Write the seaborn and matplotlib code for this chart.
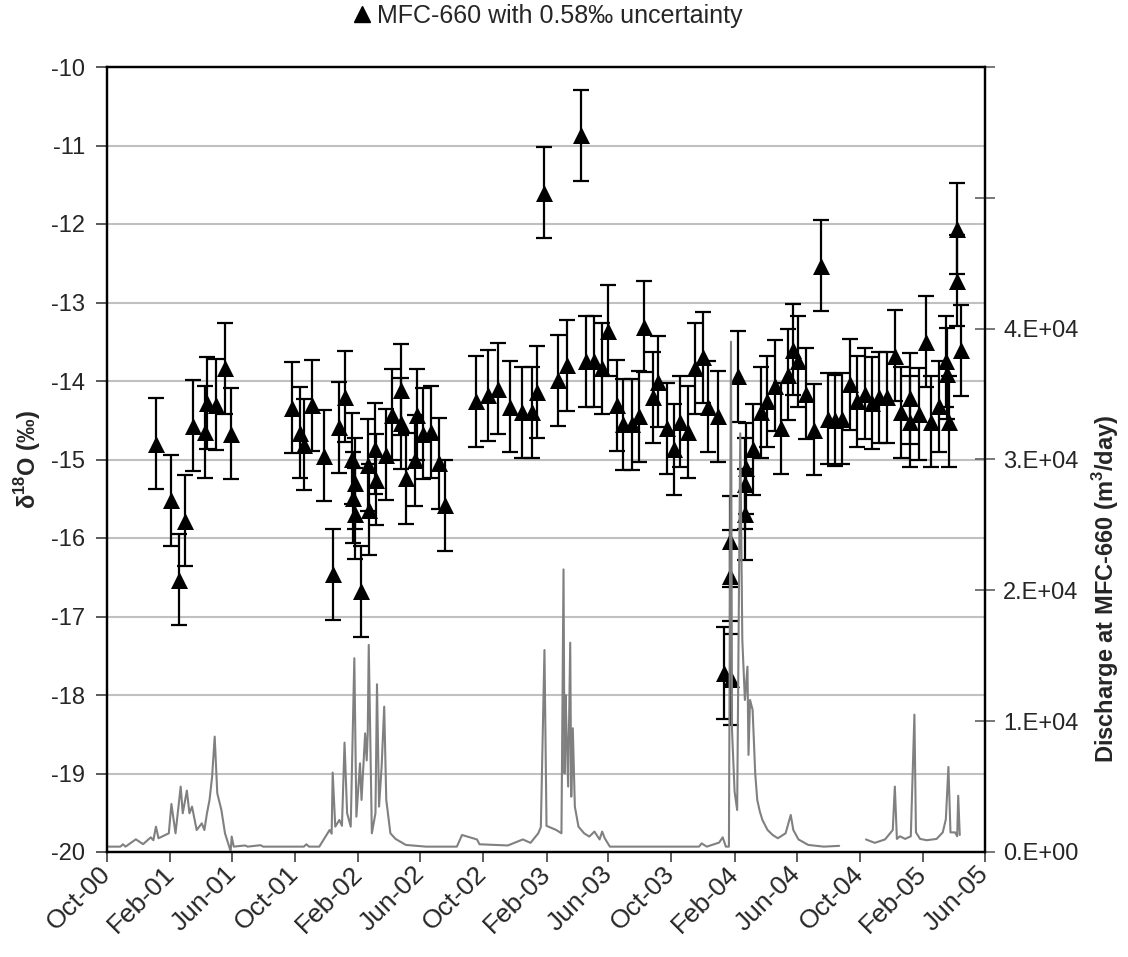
import numpy as np
import pandas as pd
import matplotlib
matplotlib.use("Agg")
import matplotlib.pyplot as plt
import matplotlib.dates as mdates
from matplotlib.ticker import FixedLocator, FuncFormatter
from matplotlib.lines import Line2D
import seaborn as sns

# d18O samples at MFC-660
sample_dates = [
    "2001-01-05", "2001-02-02", "2001-02-18", "2001-03-01", "2001-03-17", "2001-04-09",
    "2001-04-14", "2001-04-30", "2001-05-18", "2001-05-29",
    "2001-09-25", "2001-10-11", "2001-10-19", "2001-11-03", "2001-11-26", "2001-12-13",
    "2001-12-25", "2002-01-05", "2002-01-20", "2002-01-22", "2002-01-25", "2002-01-26",
    "2002-02-06", "2002-02-20", "2002-02-22", "2002-03-05", "2002-03-08", "2002-03-27",
    "2002-04-08", "2002-04-24", "2002-04-25", "2002-05-04", "2002-05-21", "2002-05-25",
    "2002-06-06", "2002-06-21", "2002-07-07", "2002-07-19",
    "2002-09-18", "2002-10-11", "2002-10-30", "2002-11-22", "2002-12-15", "2003-01-04",
    "2003-01-13", "2003-01-28", "2003-02-24", "2003-03-12", "2003-04-09", "2003-04-18",
    "2003-05-04", "2003-05-19", "2003-06-01", "2003-06-17", "2003-06-29", "2003-07-16",
    "2003-07-31", "2003-08-09", "2003-08-26", "2003-09-06", "2003-09-22", "2003-10-06",
    "2003-10-18", "2003-11-03", "2003-11-16", "2003-12-01", "2003-12-12", "2003-12-31",
    "2004-01-12", "2004-01-23", "2004-01-24", "2004-01-25", "2004-02-08", "2004-02-21",
    "2004-02-22", "2004-02-23", "2004-03-08", "2004-03-24", "2004-04-03", "2004-04-19",
    "2004-05-01", "2004-05-15", "2004-05-25", "2004-06-03", "2004-06-18", "2004-07-04",
    "2004-07-17", "2004-08-01", "2004-08-14", "2004-08-27", "2004-09-12", "2004-09-25",
    "2004-10-11", "2004-10-24", "2004-11-08", "2004-11-23", "2004-12-08", "2004-12-20",
    "2005-01-06", "2005-01-07", "2005-01-24", "2005-02-06", "2005-02-17", "2005-03-03",
    "2005-03-17", "2005-03-19", "2005-03-23", "2005-04-07", "2005-04-08", "2005-04-15",
]
d18o = [
    -14.80, -15.52, -16.53, -15.78, -14.57, -14.65, -14.28, -14.30, -13.84, -14.67,
    -14.34, -14.66, -14.81, -14.31, -14.95, -16.46, -14.59, -14.20, -14.99, -15.49,
    -15.30, -15.69, -16.68, -15.07, -15.64, -14.86, -15.26, -14.94, -14.43, -14.11,
    -14.54, -15.24, -15.01, -14.43, -14.67, -14.65, -15.05, -15.58,
    -14.26, -14.18, -14.10, -14.33, -14.40, -14.40, -14.14, -11.60, -13.99, -13.80,
    -10.87, -13.75, -13.75, -13.84, -13.36, -14.31, -14.55, -14.55, -14.45, -13.31,
    -14.21, -14.01, -14.60, -14.87, -14.52, -14.65, -13.84, -13.70, -14.33, -14.45,
    -17.72, -16.48, -16.04, -17.80, -13.94, -15.70, -15.31, -15.11, -14.87, -14.40,
    -14.26, -14.06, -14.60, -13.92, -13.60, -13.75, -14.16, -14.62, -12.53, -14.48,
    -14.50, -14.48, -14.04, -14.26, -14.16, -14.28, -14.21, -14.21, -13.68, -14.40,
    -14.22, -14.52, -14.42, -13.50, -14.52, -14.32, -13.75, -13.91, -14.52, -12.72,
    -12.06, -13.61,
]
uncertainty = 0.58

# discharge trace: days since 1 Oct 2000 and flow (m3/day), nan = data gap
q_day = [
    2, 26, 31, 36, 56, 70, 85, 90, 95, 100, 120, 125, 133, 143, 147, 155, 160, 165,
    174, 184, 189, 194, 199, 204, 209, 214, 222, 229, 236, 240, 242, 246, 268, 273,
    298, 303, 382, 387, 392, 412, 422, 432, 436, 438, 443, 451, 456, 461, 466, 473,
    480, 484, 491, 494, 501, 504, 506, 508, 514, 521, 524, 528, 533, 538, 542, 550,
    560, 580, 619, 679, 689, 718, 723, 778, 807, 822, 837, 842, 849, 853, 872, 882,
    886, 888, 890, 892, 895, 899, 901, 904, 908, 915, 926, 936, 946, 956, 961, 966,
    976, 1149, 1154, 1164, 1188, 1195, 1201, 1207, 1211, 1213, 1218, 1223, 1229, 1233,
    1238, 1243, 1245, 1248, 1253, 1258, 1262, 1267, 1272, 1282, 1292, 1302, 1317, 1327,
    1332, 1342, 1361, 1391, 1421, 1447, 1473, 1490, 1510, 1525, 1529, 1533, 1539, 1549,
    1560, 1567, 1570, 1578, 1591, 1610, 1622, 1628, 1633, 1637, 1646, 1650, 1652, 1655,
]
q_val = [
    410, 410, 590, 410, 970, 600, 1120, 900, 1940, 1050, 1430, 3670, 1430, 5000, 2960, 4690, 2960, 3470,
    1680, 2190, 1680, 2960, 3980, 5760, 8820, 4490, 3210, 1430, 540, 50, 1180, 410, 500, 410,
    520, 410, 410, 590, 410, 410, 1050, 1680, 1400, 6070, 1940, 2450, 2000, 8360, 2960, 1940,
    14810, 2700, 6780, 3980, 9070, 7000, 9070, 15830, 1430, 2960, 12820, 3470, 6530, 11110, 3980, 1430,
    1000, 540, 410, 410, 1300, 960, 590, 500, 960, 700, 1430, 1900, 15440, 2000, 1680, 1430,
    21600, 6000, 12000, 9070, 5000, 16000, 4230, 9460, 3470, 1940, 1430, 1180, 1560, 960, 1560, 1050,
    410, 410, 660, 410, 720, 1120, 410, 410, 39000, 9330, 4610, 3210, 32000, 16210,
    11620, 14170, 7420, 11620, 10860, 6020, 3980, 3090, 2450, 1680, 1300, 1050, 1430, 2830,
    1680, 960, 540, 410, 470, np.nan, 960, 700, 960, 1680, 5000, 1000, 1200, 1000,
    1200, 10500, 1500, 1000, 900, 1000, 1500, 2500, 6500, 1500, 1500, 1200, 4300, 1300,
]

legend_label = "MFC-660 with 0.58\u2030 uncertainty"

sns.set_theme(style="white")
plt.rcParams['font.family'] = ['Liberation Sans', 'DejaVu Sans']
plt.rcParams['axes.unicode_minus'] = False
plt.rcParams['mathtext.fontset'] = 'custom'
plt.rcParams['mathtext.rm'] = 'Liberation Sans'
plt.rcParams['mathtext.bf'] = 'Liberation Sans:bold'

samples = pd.DataFrame({'date': pd.to_datetime(sample_dates), 'd18o': d18o})
start = pd.Timestamp('2000-10-01')
flow = pd.DataFrame({'date': start + pd.to_timedelta(q_day, unit='D'), 'q': q_val})

fig = plt.figure(figsize=(11.28, 9.57), dpi=100)
ax = fig.add_axes([107 / 1128, 1 - 852 / 957, 878 / 1128, 785 / 957])

ax.errorbar(samples['date'], samples['d18o'], yerr=uncertainty, fmt='none',
            ecolor='black', elinewidth=1.6, capsize=5.5, capthick=1.6, zorder=3)
sns.scatterplot(data=samples, x='date', y='d18o', marker='^', s=150, color='black',
                edgecolor='black', linewidth=0, ax=ax, zorder=4, legend=False)

ax.set_ylim(-20, -10)
ax.set_yticks(np.arange(-20, -9, 1))
ax.yaxis.set_major_formatter(FuncFormatter(lambda v, p: f"{v:.0f}"))
ax.yaxis.grid(True, color='#c0c0c0', lw=1.5)
ax.xaxis.grid(False)
ax.set_axisbelow(True)

ax.set_xlim(pd.Timestamp('2000-10-01'), pd.Timestamp('2005-06-01'))
xticks = pd.date_range('2000-10-01', '2005-06-01', freq='4MS')
ax.xaxis.set_major_locator(FixedLocator(mdates.date2num(xticks)))
ax.xaxis.set_major_formatter(mdates.DateFormatter('%b-%y'))
ax.tick_params(axis='x', direction='out', length=7, width=1.2, color='#404040',
               labelsize=19, pad=6, bottom=True)
ax.tick_params(axis='y', direction='out', length=8, width=1.2, color='#404040',
               labelsize=17, pad=8, left=True)
for lab in ax.get_xticklabels():
    lab.set_rotation(45)
    lab.set_ha('right')
    lab.set_va('center')
    lab.set_rotation_mode('anchor')

ax.set_xlabel('')
ax.set_ylabel(r'δ$^{\mathbf{18}}$O (‰)', fontsize=17, fontweight='bold')
ax.yaxis.set_label_coords(-0.09, 0.5)
ax.yaxis.label.set_va('center')

# discharge on the secondary axis
ax2 = ax.twinx()
ax2.plot(flow['date'], flow['q'], color='#808080', lw=1.5, zorder=2)
ax2.set_ylim(0, 60000)
ax2.set_yticks(np.arange(0, 60001, 10000))
ax2.yaxis.set_major_formatter(FuncFormatter(
    lambda v, p: "0.E+00" if v == 0 else (f"{v / 1e4:.0f}.E+04" if v <= 40000 else "")))
ax2.tick_params(axis='y', direction='inout', length=14, width=1.2, color='#606060',
                labelsize=17, pad=6, right=True)
ax2.set_ylabel(r'Discharge at MFC-660 (m$^{\mathbf{3}}$/day)', fontsize=17,
               fontweight='bold')
ax2.yaxis.set_label_coords(1.137, 0.335)
ax2.yaxis.label.set_va('center')

for a in (ax, ax2):
    for sp in a.spines.values():
        sp.set_color('black')
        sp.set_linewidth(1.6)

handle = Line2D([], [], marker='^', color='black', ls='none', ms=12)
fig.legend([handle], [legend_label], loc='center', bbox_to_anchor=(546 / 1128, 1 - 16 / 957),
           frameon=False, fontsize=18, handletextpad=0.1, handlelength=1.0)

fig.savefig('out.png', dpi=100)
